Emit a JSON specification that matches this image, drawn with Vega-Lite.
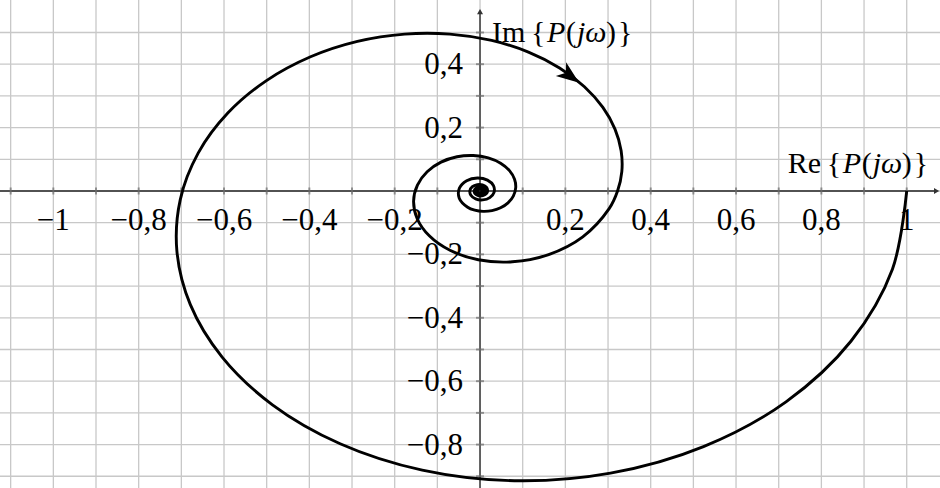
{
  "$schema": "https://vega.github.io/schema/vega-lite/v6.json",
  "width": 940,
  "height": 488,
  "padding": 0,
  "autosize": {"type": "none"},
  "background": "#ffffff",
  "config": {
    "view": {"stroke": null},
    "text": {"font": "Liberation Serif", "fontSize": 30, "color": "#000000"}
  },
  "datasets": {
    "gridx": [
      {"v": -1.1}, {"v": -1.0}, {"v": -0.9}, {"v": -0.8}, {"v": -0.7}, {"v": -0.6},
      {"v": -0.5}, {"v": -0.4}, {"v": -0.3}, {"v": -0.2}, {"v": -0.1}, {"v": 0},
      {"v": 0.1}, {"v": 0.2}, {"v": 0.3}, {"v": 0.4}, {"v": 0.5}, {"v": 0.6},
      {"v": 0.7}, {"v": 0.8}, {"v": 0.9}, {"v": 1.0}
    ],
    "gridy": [
      {"v": -0.9}, {"v": -0.8}, {"v": -0.7}, {"v": -0.6}, {"v": -0.5}, {"v": -0.4},
      {"v": -0.3}, {"v": -0.2}, {"v": -0.1}, {"v": 0}, {"v": 0.1}, {"v": 0.2},
      {"v": 0.3}, {"v": 0.4}, {"v": 0.5}
    ],
    "xlabels": [
      {"v": -1, "t": "−1"}, {"v": -0.8, "t": "−0,8"}, {"v": -0.6, "t": "−0,6"},
      {"v": -0.4, "t": "−0,4"}, {"v": -0.2, "t": "−0,2"}, {"v": 0.2, "t": "0,2"},
      {"v": 0.4, "t": "0,4"}, {"v": 0.6, "t": "0,6"}, {"v": 0.8, "t": "0,8"}, {"v": 1, "t": "1"}
    ],
    "ylabels": [
      {"v": 0.4, "t": "0,4"}, {"v": 0.2, "t": "0,2"}, {"v": -0.2, "t": "−0,2"},
      {"v": -0.4, "t": "−0,4"}, {"v": -0.6, "t": "−0,6"}, {"v": -0.8, "t": "−0,8"}
    ],
    "curve": [
      {"omega": 0, "re": 1.0, "im": 0.0},
      {"omega": 0.05, "re": 0.9665, "im": -0.2467},
      {"omega": 0.1, "re": 0.8692, "im": -0.4741},
      {"omega": 0.15, "re": 0.7171, "im": -0.6651},
      {"omega": 0.2, "re": 0.5237, "im": -0.8064},
      {"omega": 0.25, "re": 0.3057, "im": -0.8901},
      {"omega": 0.3, "re": 0.0805, "im": -0.9139},
      {"omega": 0.35, "re": -0.1354, "im": -0.8805},
      {"omega": 0.4, "re": -0.3279, "im": -0.7973},
      {"omega": 0.45, "re": -0.4865, "im": -0.6745},
      {"omega": 0.5, "re": -0.6044, "im": -0.5241},
      {"omega": 0.55, "re": -0.6789, "im": -0.3586},
      {"omega": 0.6, "re": -0.7104, "im": -0.1896},
      {"omega": 0.65, "re": -0.7025, "im": -0.0273},
      {"omega": 0.7, "re": -0.6603, "im": 0.1201},
      {"omega": 0.75, "re": -0.5906, "im": 0.2465},
      {"omega": 0.8, "re": -0.5005, "im": 0.3483},
      {"omega": 0.85, "re": -0.3972, "im": 0.4234},
      {"omega": 0.9, "re": -0.2873, "im": 0.4720},
      {"omega": 0.95, "re": -0.1767, "im": 0.4950},
      {"omega": 1.0, "re": -0.0706, "im": 0.4950},
      {"omega": 1.05, "re": 0.0272, "im": 0.4749},
      {"omega": 1.1, "re": 0.1135, "im": 0.4380},
      {"omega": 1.15, "re": 0.1864, "im": 0.3881},
      {"omega": 1.2, "re": 0.2447, "im": 0.3288},
      {"omega": 1.25, "re": 0.2879, "im": 0.2635},
      {"omega": 1.3, "re": 0.3163, "im": 0.1953},
      {"omega": 1.35, "re": 0.3307, "im": 0.1270},
      {"omega": 1.4, "re": 0.3323, "im": 0.0612},
      {"omega": 1.45, "re": 0.3223, "im": -0.0003},
      {"omega": 1.5, "re": 0.3026, "im": -0.0558},
      {"omega": 1.6, "re": 0.2408, "im": -0.1447},
      {"omega": 1.7, "re": 0.1608, "im": -0.2006},
      {"omega": 1.8, "re": 0.0757, "im": -0.2234},
      {"omega": 1.9, "re": -0.0041, "im": -0.2169},
      {"omega": 2.0, "re": -0.0705, "im": -0.1872},
      {"omega": 2.1, "re": -0.1189, "im": -0.1415},
      {"omega": 2.2, "re": -0.1472, "im": -0.0875},
      {"omega": 2.3, "re": -0.1557, "im": -0.0321},
      {"omega": 2.4, "re": -0.1467, "im": 0.0188},
      {"omega": 2.5, "re": -0.1239, "im": 0.0607},
      {"omega": 2.6, "re": -0.0914, "im": 0.0909},
      {"omega": 2.7, "re": -0.0539, "im": 0.1079},
      {"omega": 2.8, "re": -0.0158, "im": 0.1120},
      {"omega": 2.9, "re": 0.0192, "im": 0.1045},
      {"omega": 3.0, "re": 0.0482, "im": 0.0876},
      {"omega": 3.1, "re": 0.0690, "im": 0.0642},
      {"omega": 3.2, "re": 0.0809, "im": 0.0371},
      {"omega": 3.3, "re": 0.0836, "im": 0.0095},
      {"omega": 3.4, "re": 0.0780, "im": -0.0161},
      {"omega": 3.5, "re": 0.0656, "im": -0.0374},
      {"omega": 3.6, "re": 0.0482, "im": -0.0530},
      {"omega": 3.7, "re": 0.0280, "im": -0.0621},
      {"omega": 3.8, "re": 0.0071, "im": -0.0644},
      {"omega": 3.9, "re": -0.0124, "im": -0.0604},
      {"omega": 4.0, "re": -0.0290, "im": -0.0512},
      {"omega": 4.2, "re": -0.0487, "im": -0.0226},
      {"omega": 4.4, "re": -0.0483, "im": 0.0091},
      {"omega": 4.6, "re": -0.0313, "im": 0.0326},
      {"omega": 4.8, "re": -0.0061, "im": 0.0411},
      {"omega": 5.0, "re": 0.0174, "im": 0.0343},
      {"omega": 5.2, "re": 0.0315, "im": 0.0167},
      {"omega": 5.4, "re": 0.0329, "im": -0.0042},
      {"omega": 5.6, "re": 0.0229, "im": -0.0208},
      {"omega": 5.8, "re": 0.0063, "im": -0.0282},
      {"omega": 6.0, "re": -0.0103, "im": -0.0250},
      {"omega": 6.2, "re": -0.0214, "im": -0.0137},
      {"omega": 6.4, "re": -0.0238, "im": 0.0010},
      {"omega": 6.6, "re": -0.0179, "im": 0.0136},
      {"omega": 6.8, "re": -0.0065, "im": 0.0201},
      {"omega": 7.0, "re": 0.0058, "im": 0.0191},
      {"omega": 7.2, "re": 0.0149, "im": 0.0117},
      {"omega": 7.4, "re": 0.0179, "im": 0.0011},
      {"omega": 7.6, "re": 0.0145, "im": -0.0089},
      {"omega": 7.8, "re": 0.0066, "im": -0.0148},
      {"omega": 8.0, "re": -0.0029, "im": -0.0151},
      {"omega": 8.25, "re": -0.0118, "im": -0.0085},
      {"omega": 8.5, "re": -0.0135, "im": 0.0018},
      {"omega": 8.75, "re": -0.0081, "im": 0.0100},
      {"omega": 9.0, "re": 0.0009, "im": 0.0122},
      {"omega": 9.25, "re": 0.0085, "im": 0.0078},
      {"omega": 9.5, "re": 0.0110, "im": -0.0002},
      {"omega": 9.75, "re": 0.0075, "im": -0.0073},
      {"omega": 10.0, "re": 0.0004, "im": -0.0099},
      {"omega": 10.25, "re": -0.0062, "im": -0.0072},
      {"omega": 10.5, "re": -0.0089, "im": -0.0010},
      {"omega": 10.75, "re": -0.0068, "im": 0.0052},
      {"omega": 11.0, "re": -0.0014, "im": 0.0081},
      {"omega": 11.25, "re": 0.0043, "im": 0.0065},
      {"omega": 11.5, "re": 0.0073, "im": 0.0017},
      {"omega": 11.75, "re": 0.0062, "im": -0.0036},
      {"omega": 12.0, "re": 0.0020, "im": -0.0066},
      {"omega": 12.5, "re": -0.0060, "im": -0.0022},
      {"omega": 13.0, "re": -0.0024, "im": 0.0054},
      {"omega": 13.5, "re": 0.0048, "im": 0.0026},
      {"omega": 14.0, "re": 0.0027, "im": -0.0043}
    ],
    "direction": [{"re": 0.211, "im": 0.363}]
  },
  "layer": [
    {
      "data": {"name": "gridx"},
      "mark": {"type": "rule", "color": "#c8c8c8", "strokeWidth": 1.3},
      "encoding": {
        "x": {"field": "v", "type": "quantitative", "axis": null, "scale": {"domain": [-1.125, 1.078], "nice": false, "zero": false}}
      }
    },
    {
      "data": {"name": "gridy"},
      "mark": {"type": "rule", "color": "#c8c8c8", "strokeWidth": 1.3},
      "encoding": {
        "y": {"field": "v", "type": "quantitative", "axis": null, "scale": {"domain": [-0.937, 0.6025], "nice": false, "zero": false}}
      }
    },
    {
      "data": {"values": [{}]},
      "mark": {"type": "rule", "color": "#262626", "strokeWidth": 1.3},
      "encoding": {
        "x": {"datum": -1.125, "type": "quantitative", "axis": null, "scale": {"domain": [-1.125, 1.078], "nice": false, "zero": false}},
        "x2": {"datum": 1.07},
        "y": {"datum": 0, "type": "quantitative", "axis": null, "scale": {"domain": [-0.937, 0.6025], "nice": false, "zero": false}}
      }
    },
    {
      "data": {"values": [{}]},
      "mark": {"type": "rule", "color": "#555555", "strokeWidth": 1.8},
      "encoding": {
        "x": {"datum": 0, "type": "quantitative", "axis": null, "scale": {"domain": [-1.125, 1.078], "nice": false, "zero": false}},
        "y": {"datum": -0.937, "type": "quantitative", "axis": null, "scale": {"domain": [-0.937, 0.6025], "nice": false, "zero": false}},
        "y2": {"datum": 0.566}
      }
    },
    {
      "data": {"name": "gridx"},
      "transform": [{"filter": "datum.v != 0"}],
      "mark": {"type": "tick", "orient": "vertical", "size": 7, "thickness": 2, "color": "#6e6e6e"},
      "encoding": {
        "x": {"field": "v", "type": "quantitative", "axis": null, "scale": {"domain": [-1.125, 1.078], "nice": false, "zero": false}},
        "y": {"datum": 0, "type": "quantitative", "axis": null, "scale": {"domain": [-0.937, 0.6025], "nice": false, "zero": false}}
      }
    },
    {
      "data": {"name": "gridy"},
      "transform": [{"filter": "datum.v != 0"}],
      "mark": {"type": "tick", "orient": "horizontal", "size": 8, "thickness": 2, "color": "#6e6e6e"},
      "encoding": {
        "x": {"datum": 0, "type": "quantitative", "axis": null, "scale": {"domain": [-1.125, 1.078], "nice": false, "zero": false}},
        "y": {"field": "v", "type": "quantitative", "axis": null, "scale": {"domain": [-0.937, 0.6025], "nice": false, "zero": false}}
      }
    },
    {
      "data": {"values": [{}]},
      "mark": {"type": "point", "shape": "triangle-up", "filled": true, "size": 36, "color": "#333333", "opacity": 1},
      "encoding": {
        "x": {"datum": 0, "type": "quantitative", "axis": null, "scale": {"domain": [-1.125, 1.078], "nice": false, "zero": false}},
        "y": {"datum": 0.566, "type": "quantitative", "axis": null, "scale": {"domain": [-0.937, 0.6025], "nice": false, "zero": false}}
      }
    },
    {
      "data": {"values": [{}]},
      "mark": {"type": "point", "shape": "triangle-right", "filled": true, "size": 36, "color": "#333333", "opacity": 1},
      "encoding": {
        "x": {"datum": 1.07, "type": "quantitative", "axis": null, "scale": {"domain": [-1.125, 1.078], "nice": false, "zero": false}},
        "y": {"datum": 0, "type": "quantitative", "axis": null, "scale": {"domain": [-0.937, 0.6025], "nice": false, "zero": false}}
      }
    },
    {
      "data": {"name": "curve"},
      "mark": {"type": "line", "color": "#000000", "strokeWidth": 2.9, "interpolate": "catmull-rom", "clip": true},
      "encoding": {
        "x": {"field": "re", "type": "quantitative", "axis": null, "scale": {"domain": [-1.125, 1.078], "nice": false, "zero": false}},
        "y": {"field": "im", "type": "quantitative", "axis": null, "scale": {"domain": [-0.937, 0.6025], "nice": false, "zero": false}},
        "order": {"field": "omega", "type": "quantitative"}
      }
    },
    {
      "data": {"name": "direction"},
      "mark": {"type": "point", "shape": "M1,0L-1,-0.75L-0.45,0L-1,0.75Z", "filled": true, "size": 520, "angle": 37, "color": "#000000", "opacity": 1},
      "encoding": {
        "x": {"field": "re", "type": "quantitative", "axis": null, "scale": {"domain": [-1.125, 1.078], "nice": false, "zero": false}},
        "y": {"field": "im", "type": "quantitative", "axis": null, "scale": {"domain": [-0.937, 0.6025], "nice": false, "zero": false}}
      }
    },
    {
      "data": {"name": "xlabels"},
      "mark": {"type": "text", "font": "Liberation Serif", "fontSize": 31, "align": "center", "baseline": "alphabetic", "dy": 39},
      "encoding": {
        "x": {"field": "v", "type": "quantitative", "axis": null, "scale": {"domain": [-1.125, 1.078], "nice": false, "zero": false}},
        "y": {"datum": 0, "type": "quantitative", "axis": null, "scale": {"domain": [-0.937, 0.6025], "nice": false, "zero": false}},
        "text": {"field": "t"}
      }
    },
    {
      "data": {"name": "ylabels"},
      "mark": {"type": "text", "font": "Liberation Serif", "fontSize": 31, "align": "right", "baseline": "alphabetic", "dx": -17, "dy": 10},
      "encoding": {
        "x": {"datum": 0, "type": "quantitative", "axis": null, "scale": {"domain": [-1.125, 1.078], "nice": false, "zero": false}},
        "y": {"field": "v", "type": "quantitative", "axis": null, "scale": {"domain": [-0.937, 0.6025], "nice": false, "zero": false}},
        "text": {"field": "t"}
      }
    },
    {
      "data": {"values": [{}]},
      "encoding": {
        "x": {"datum": 1, "type": "quantitative", "axis": null, "scale": {"domain": [-1.125, 1.078], "nice": false, "zero": false}},
        "y": {"datum": 0, "type": "quantitative", "axis": null, "scale": {"domain": [-0.937, 0.6025], "nice": false, "zero": false}}
      },
      "layer": [
        {"mark": {"type": "text", "text": "Re", "fontSize": 30, "align": "left", "baseline": "alphabetic", "dx": -119, "dy": -18}},
        {"mark": {"type": "text", "text": "{", "fontSize": 30, "align": "left", "baseline": "alphabetic", "dx": -80, "dy": -18}},
        {"mark": {"type": "text", "text": "P", "fontSize": 30, "fontStyle": "italic", "align": "left", "baseline": "alphabetic", "dx": -64, "dy": -18}},
        {"mark": {"type": "text", "text": "(", "fontSize": 30, "align": "left", "baseline": "alphabetic", "dx": -45, "dy": -18}},
        {"mark": {"type": "text", "text": "jω", "fontSize": 30, "fontStyle": "italic", "align": "left", "baseline": "alphabetic", "dx": -34, "dy": -18}},
        {"mark": {"type": "text", "text": ")", "fontSize": 30, "align": "left", "baseline": "alphabetic", "dx": -5, "dy": -18}},
        {"mark": {"type": "text", "text": "}", "fontSize": 30, "align": "left", "baseline": "alphabetic", "dx": 7, "dy": -18}}
      ]
    },
    {
      "data": {"values": [{}]},
      "encoding": {
        "x": {"datum": 0, "type": "quantitative", "axis": null, "scale": {"domain": [-1.125, 1.078], "nice": false, "zero": false}},
        "y": {"datum": 0.5, "type": "quantitative", "axis": null, "scale": {"domain": [-0.937, 0.6025], "nice": false, "zero": false}}
      },
      "layer": [
        {"mark": {"type": "text", "text": "Im", "fontSize": 30, "align": "left", "baseline": "alphabetic", "dx": 12, "dy": 10}},
        {"mark": {"type": "text", "text": "{", "fontSize": 30, "align": "left", "baseline": "alphabetic", "dx": 51, "dy": 10}},
        {"mark": {"type": "text", "text": "P", "fontSize": 30, "fontStyle": "italic", "align": "left", "baseline": "alphabetic", "dx": 67, "dy": 10}},
        {"mark": {"type": "text", "text": "(", "fontSize": 30, "align": "left", "baseline": "alphabetic", "dx": 86, "dy": 10}},
        {"mark": {"type": "text", "text": "jω", "fontSize": 30, "fontStyle": "italic", "align": "left", "baseline": "alphabetic", "dx": 97, "dy": 10}},
        {"mark": {"type": "text", "text": ")", "fontSize": 30, "align": "left", "baseline": "alphabetic", "dx": 126, "dy": 10}},
        {"mark": {"type": "text", "text": "}", "fontSize": 30, "align": "left", "baseline": "alphabetic", "dx": 138, "dy": 10}}
      ]
    }
  ]
}
